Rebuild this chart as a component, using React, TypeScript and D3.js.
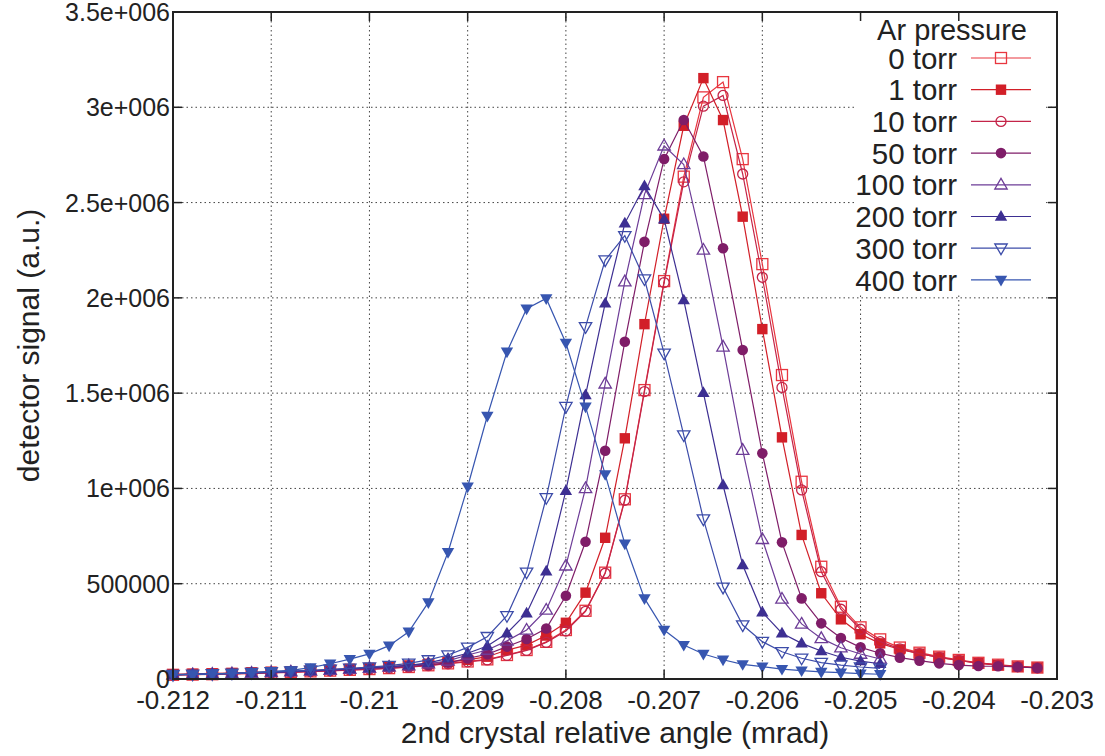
import React from 'react';
import * as d3 from 'd3';

// 2nd crystal relative angle (mrad)
const ANGLES = [
  -0.2120, -0.2118, -0.2116, -0.2114, -0.2112, -0.2110, -0.2108, -0.2106, -0.2104, -0.2102,
  -0.2100, -0.2098, -0.2096, -0.2094, -0.2092, -0.2090, -0.2088, -0.2086, -0.2084, -0.2082,
  -0.2080, -0.2078, -0.2076, -0.2074, -0.2072, -0.2070, -0.2068, -0.2066, -0.2064, -0.2062,
  -0.2060, -0.2058, -0.2056, -0.2054, -0.2052, -0.2050, -0.2048, -0.2046, -0.2044, -0.2042,
  -0.2040, -0.2038, -0.2036, -0.2034, -0.2032,
];

// detector signal (a.u.) per Ar pressure
const P0 = [
  22000, 23000, 25000, 27000, 30000, 33000, 36000, 40000, 44000, 48000, 52000, 57000, 63000, 72000,
  82000, 92000, 103000, 126000, 152000, 195000,
  257000, 358000, 558000, 943000, 1516000, 2088000, 2636000, 3052000, 3132000, 2728000,
  2177000, 1595000, 1035000, 589000, 379000, 271000, 208000, 165000, 138000, 117000,
  100000, 85000, 75000, 66000, 60000,
];
const P1 = [
  25000, 27000, 29000, 31000, 34000, 37000, 40000, 44000, 48000, 53000, 58000, 64000, 71000, 80000,
  90000, 100000, 117000, 152000, 178000, 228000,
  295000, 453000, 741000, 1263000, 1862000, 2415000, 2903000, 3153000, 2933000, 2426000,
  1836000, 1268000, 756000, 450000, 313000, 235000, 187000, 155000, 133000, 113000,
  97000, 83000, 73000, 65000, 60000,
];
const P10 = [
  21000, 23000, 24000, 27000, 29000, 32000, 35000, 39000, 43000, 47000, 51000, 56000, 62000, 70000,
  80000, 90000, 100000, 124000, 150000, 192000,
  252000, 355000, 555000, 938000, 1508000, 2080000, 2609000, 3006000, 3062000, 2650000,
  2108000, 1530000, 992000, 563000, 366000, 261000, 196000, 158000, 133000, 113000,
  97000, 83000, 73000, 65000, 59000,
];
const P50 = [
  22000, 24000, 26000, 28000, 31000, 34000, 37000, 41000, 45000, 50000, 55000, 60000, 66000, 74000,
  85000, 108000, 130000, 170000, 210000, 265000,
  437000, 720000, 1198000, 1770000, 2294000, 2728000, 2933000, 2742000, 2260000, 1726000,
  1184000, 717000, 423000, 292000, 215000, 166000, 135000, 112000, 96000, 82000,
  73000, 68000, 67000, 63000, 58000,
];
const P100 = [
  22000, 24000, 26000, 28000, 31000, 34000, 38000, 42000, 47000, 52000, 57000, 63000, 70000, 80000,
  95000, 126000, 152000, 200000, 257000, 362000,
  594000, 1000000, 1549000, 2085000, 2543000, 2798000, 2700000, 2251000, 1743000, 1201000,
  733000, 420000, 289000, 213000, 164000, 131000, 105000,
];
const P200 = [
  23000, 25000, 27000, 29000, 32000, 35000, 39000, 43000, 48000, 53000, 59000, 65000, 72000, 85000,
  108000, 135000, 173000, 240000, 345000, 565000,
  988000, 1490000, 1971000, 2391000, 2587000, 2412000, 1988000, 1502000, 1018000, 598000,
  350000, 240000, 187000, 147000, 114000, 94000, 80000,
];
const P300 = [
  23000, 25000, 27000, 30000, 33000, 37000, 41000, 46000, 51000, 56000, 62000, 70000, 82000, 100000,
  126000, 166000, 222000, 332000, 560000, 951000,
  1429000, 1848000, 2198000, 2326000, 2099000, 1709000, 1280000, 839000, 481000, 283000,
  196000, 143000, 109000, 86000, 73000, 63000, 56000,
];
const P400 = [
  22000, 24000, 27000, 30000, 34000, 40000, 45000, 60000, 80000, 104000, 132000, 175000, 248000, 402000,
  665000, 1009000, 1380000, 1717000, 1943000, 1997000,
  1763000, 1429000, 1074000, 710000, 423000, 257000, 178000, 131000, 101000, 77000,
  65000, 52000, 44000, 37000, 33000, 28000, 25000,
];

const LABELS = ['0 torr', '1 torr', '10 torr', '50 torr', '100 torr', '200 torr', '300 torr', '400 torr'];
const VALUES = [P0, P1, P10, P50, P100, P200, P300, P400];
const COLORS = ['#e8363f', '#d21f28', '#c42448', '#7f1d68', '#6d3c97', '#3d2f92', '#3c4ca9', '#3756b0'];
const MARKERS = ['squareOpen', 'squareFilled', 'circleOpen', 'circleFilled', 'triUpOpen', 'triUpFilled', 'triDownOpen', 'triDownFilled'];

const X_TICKS = [-0.212, -0.211, -0.21, -0.209, -0.208, -0.207, -0.206, -0.205, -0.204, -0.203];
const X_TICK_LABELS = ['-0.212', '-0.211', '-0.21', '-0.209', '-0.208', '-0.207', '-0.206', '-0.205', '-0.204', '-0.203'];
const Y_TICKS = [0, 500000, 1000000, 1500000, 2000000, 2500000, 3000000, 3500000];
const Y_TICK_LABELS = ['0', '500000', '1e+006', '1.5e+006', '2e+006', '2.5e+006', '3e+006', '3.5e+006'];

const FONT = '"Liberation Sans", Arial, Helvetica, sans-serif';
const TEXT = '#222';

function Marker({ type, cx, cy, color }: { type: string; cx: number; cy: number; color: string }) {
  const sw = 1.3;
  switch (type) {
    case 'squareOpen':
      return <rect x={cx - 5.5} y={cy - 5.5} width={11} height={11} fill="none" stroke={color} strokeWidth={sw} />;
    case 'squareFilled':
      return <rect x={cx - 5.2} y={cy - 5.2} width={10.4} height={10.4} fill={color} />;
    case 'circleOpen':
      return <circle cx={cx} cy={cy} r={5} fill="none" stroke={color} strokeWidth={sw} />;
    case 'circleFilled':
      return <circle cx={cx} cy={cy} r={5.3} fill={color} />;
    case 'triUpOpen':
      return <path d={`M${cx},${cy - 6.5}L${cx + 6.2},${cy + 4.2}L${cx - 6.2},${cy + 4.2}Z`} fill="none" stroke={color} strokeWidth={sw} />;
    case 'triUpFilled':
      return <path d={`M${cx},${cy - 6.5}L${cx + 6.2},${cy + 4.2}L${cx - 6.2},${cy + 4.2}Z`} fill={color} />;
    case 'triDownOpen':
      return <path d={`M${cx},${cy + 6.5}L${cx + 6.2},${cy - 4.2}L${cx - 6.2},${cy - 4.2}Z`} fill="none" stroke={color} strokeWidth={sw} />;
    default:
      return <path d={`M${cx},${cy + 6.5}L${cx + 6.2},${cy - 4.2}L${cx - 6.2},${cy - 4.2}Z`} fill={color} />;
  }
}

export default function App() {
  const W = 1105;
  const H = 756;
  const L = 173, R = 1057, T = 12, B = 679;
  const x = d3.scaleLinear().domain([-0.212, -0.203]).range([L, R]);
  const y = d3.scaleLinear().domain([0, 3500000]).range([B, T]);
  const line = d3.line<[number, number]>().x(d => x(d[0])).y(d => y(d[1]));
  const tickLen = 9;

  const series = LABELS.map((label, i) => ({
    label,
    color: COLORS[i],
    marker: MARKERS[i],
    pts: VALUES[i].map((v, k) => [ANGLES[k], v] as [number, number]),
  }));

  // legend layout
  const legTop = 58, legStep = 31.7;
  const legTextX = 957, legLine0 = 971, legLine1 = 1031, legMark = 1001;

  return (
    <div style={{ position: 'absolute', left: 0, top: 0 }}>
      <svg width={W} height={H} style={{ display: 'block', background: '#fff' }} fontFamily={FONT}>
        <rect x={0} y={0} width={W} height={H} fill="#fff" />
        {/* grid */}
        <g stroke="#444" strokeWidth={1} strokeDasharray="1.5,3">
          {X_TICKS.slice(1, -1).map(t => (
            <line key={'gx' + t} x1={x(t)} x2={x(t)} y1={T} y2={B} />
          ))}
          {Y_TICKS.slice(1, -1).map(t => (
            <line key={'gy' + t} x1={L} x2={R} y1={y(t)} y2={y(t)} />
          ))}
        </g>
        {/* data */}
        {series.map(s => (
          <g key={s.label}>
            <path d={line(s.pts) || ''} fill="none" stroke={s.color} strokeWidth={1.2} />
            {s.pts.map((p, k) => (
              <Marker key={k} type={s.marker} cx={x(p[0])} cy={y(p[1])} color={s.color} />
            ))}
          </g>
        ))}
        {/* legend */}
        <rect x={855} y={T + 1} width={190} height={280} fill="#fff" />
        <text x={1027} y={40} textAnchor="end" fontSize={29} fill={TEXT}>Ar pressure</text>
        {series.map((s, i) => {
          const cy = legTop + legStep * i;
          return (
            <g key={'leg' + s.label}>
              <text x={legTextX} y={cy + 10.6} textAnchor="end" fontSize={29.5} fill={TEXT}>{s.label}</text>
              <line x1={legLine0} x2={legLine1} y1={cy} y2={cy} stroke={s.color} strokeWidth={1.2} />
              <Marker type={s.marker} cx={legMark} cy={cy} color={s.color} />
            </g>
          );
        })}
        {/* ticks */}
        <g stroke="#222" strokeWidth={1.5}>
          {X_TICKS.map(t => (
            <g key={'tx' + t}>
              <line x1={x(t)} x2={x(t)} y1={B} y2={B - tickLen} />
              <line x1={x(t)} x2={x(t)} y1={T} y2={T + tickLen} />
            </g>
          ))}
          {Y_TICKS.map(t => (
            <g key={'ty' + t}>
              <line x1={L} x2={L + tickLen} y1={y(t)} y2={y(t)} />
              <line x1={R} x2={R - tickLen} y1={y(t)} y2={y(t)} />
            </g>
          ))}
        </g>
        {/* frame */}
        <rect x={L} y={T} width={R - L} height={B - T} fill="none" stroke="#222" strokeWidth={2} />
        {/* tick labels */}
        {X_TICKS.map((t, i) => (
          <text key={'xl' + t} x={x(t)} y={709} textAnchor="middle" fontSize={26} fill={TEXT}>{X_TICK_LABELS[i]}</text>
        ))}
        {Y_TICKS.map((t, i) => (
          <text key={'yl' + t} x={170} y={y(t) + 9} textAnchor="end" fontSize={25} fill={TEXT}>{Y_TICK_LABELS[i]}</text>
        ))}
        {/* axis labels */}
        <text x={(L + R) / 2} y={743} textAnchor="middle" fontSize={30} fill={TEXT}>2nd crystal relative angle (mrad)</text>
        <text transform={`translate(39,${(T + B) / 2}) rotate(-90)`} textAnchor="middle" fontSize={30} fill={TEXT}>detector signal (a.u.)</text>
      </svg>
    </div>
  );
}
